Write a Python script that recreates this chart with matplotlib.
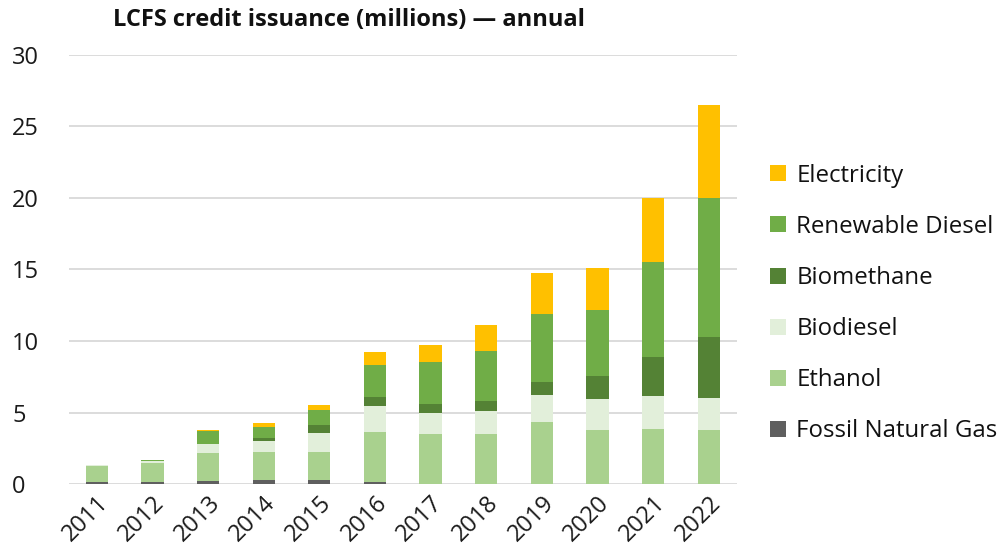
import matplotlib
matplotlib.use("Agg")
import matplotlib.pyplot as plt
import numpy as np

years = ["2011", "2012", "2013", "2014", "2015", "2016", "2017", "2018", "2019", "2020", "2021", "2022"]
fossil_ng = [0.15, 0.17, 0.23, 0.28, 0.26, 0.12, 0.0, 0.0, 0.0, 0.0, 0.0, 0.0]
ethanol = [1.08, 1.28, 1.96, 1.98, 2.00, 3.54, 3.50, 3.47, 4.36, 3.78, 3.82, 3.78]
biodiesel = [0.10, 0.15, 0.58, 0.74, 1.28, 1.79, 1.44, 1.66, 1.86, 2.16, 2.33, 2.21]
biomethane = [0.0, 0.0, 0.02, 0.24, 0.59, 0.66, 0.65, 0.70, 0.89, 1.61, 2.75, 4.31]
renewable_diesel = [0.0, 0.08, 0.89, 0.76, 1.02, 2.21, 2.96, 3.49, 4.76, 4.62, 6.60, 9.68]
electricity = [0.0, 0.0, 0.12, 0.27, 0.35, 0.88, 1.17, 1.80, 2.86, 2.96, 4.48, 6.52]

series = [
    ("Fossil Natural Gas", fossil_ng, "#5f5f5f"),
    ("Ethanol", ethanol, "#a9d18e"),
    ("Biodiesel", biodiesel, "#e2efda"),
    ("Biomethane", biomethane, "#548235"),
    ("Renewable Diesel", renewable_diesel, "#70ad47"),
    ("Electricity", electricity, "#ffc000"),
]

plt.rcParams['font.family'] = ['Open Sans', 'DejaVu Sans']

fig = plt.figure(figsize=(10.04, 5.59), dpi=100)
ax = fig.add_axes([0.0687, 0.134, 0.665, 0.768])

x = np.arange(len(years))
bottom = np.zeros(len(years))
handles = []
for name, vals, col in series:
    v = np.array(vals)
    h = ax.bar(x, v, width=0.4, bottom=bottom, color=col, label=name, zorder=3)
    handles.append(h)
    bottom += v

ax.set_xlim(-0.5, 11.5)
ax.set_ylim(0, 30)
ax.set_yticks([0, 5, 10, 15, 20, 25, 30])
ax.yaxis.grid(True, color="#d9d9d9", linewidth=1.3, zorder=0)
ax.set_axisbelow(True)
for s in ax.spines.values():
    s.set_visible(False)
ax.tick_params(axis='both', length=0)
ax.tick_params(axis='y', labelsize=17, pad=41, labelcolor="#1a1a1a")
for lbl in ax.get_yticklabels():
    lbl.set_horizontalalignment('left')
ax.set_xticks(x)
ax.set_xticklabels(years, rotation=45, ha='right', rotation_mode='anchor', fontsize=17, color="#1a1a1a")
ax.tick_params(axis='x', pad=5)

fig.text(0.113, 0.965, "LCFS credit issuance (millions) — annual", fontsize=17, fontweight='bold',
         ha='left', va='center', color="#111111")

leg = fig.legend(handles[::-1], [s[0] for s in series][::-1], loc='center left',
                 bbox_to_anchor=(0.755, 0.457), frameon=False, fontsize=17.3, borderpad=0,
                 handlelength=0.65, handleheight=0.65, handletextpad=0.45, labelspacing=1.13)
for t in leg.get_texts():
    t.set_color("#111111")

fig.savefig("out.png", dpi=100)
